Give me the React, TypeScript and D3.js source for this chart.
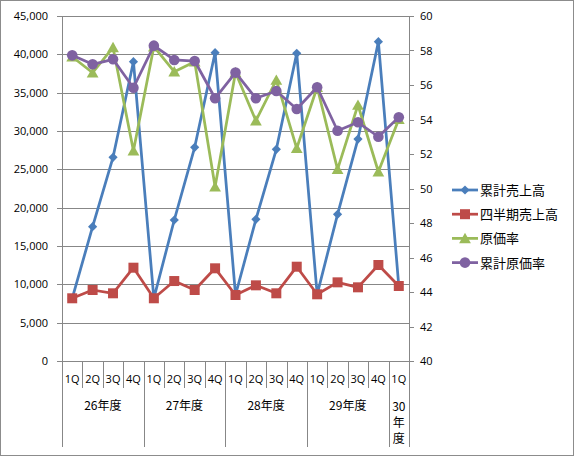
import React from 'react';
import * as d3 from 'd3';

const quarters = ['1Q','2Q','3Q','4Q','1Q','2Q','3Q','4Q','1Q','2Q','3Q','4Q','1Q','2Q','3Q','4Q','1Q'];
const years = ['26年度','27年度','28年度','29年度','30年度'];
const yearSpans = [4, 4, 4, 4, 1];

const cumulativeSales = [8180, 17520, 26570, 39040, 8180, 18390, 27870, 40210, 8610, 18480, 27610, 40130, 8700, 19130, 28950, 41650, 9780];
const quarterlySales = [8180, 9260, 8830, 12170, 8180, 10430, 9260, 12090, 8610, 9870, 8830, 12300, 8700, 10260, 9610, 12520, 9780];
const costRatio = [57.64, 56.71, 58.18, 52.19, 58.22, 56.77, 57.35, 50.1, 56.72, 53.93, 56.29, 52.33, 55.87, 51.11, 54.84, 50.97, 54.01];
const cumCostRatio = [57.72, 57.2, 57.49, 55.84, 58.28, 57.45, 57.39, 55.23, 56.72, 55.23, 55.65, 54.61, 55.87, 53.35, 53.84, 53.0, 54.13];

const leftTicks = [0, 5000, 10000, 15000, 20000, 25000, 30000, 35000, 40000, 45000];
const rightTicks = [40, 42, 44, 46, 48, 50, 52, 54, 56, 58, 60];

const seriesNames = ['累計売上高', '四半期売上高', '原価率', '累計原価率'];
const seriesColors = ['#4A7EBB', '#BE4B48', '#9BBB59', '#7F62A1'];
const seriesMarkers = ['diamond', 'square', 'triangle', 'circle'];

const W = 576, H = 458;
const plot = { left: 62, right: 409, top: 16, bottom: 361 };

function markerPath(type: string, r: number): string {
  const p = d3.path();
  if (type === 'diamond') {
    p.moveTo(0, -r); p.lineTo(r, 0); p.lineTo(0, r); p.lineTo(-r, 0); p.closePath();
  } else if (type === 'square') {
    p.rect(-r, -r, 2 * r, 2 * r);
  } else if (type === 'triangle') {
    p.moveTo(0, -r); p.lineTo(r * 1.05, r * 0.85); p.lineTo(-r * 1.05, r * 0.85); p.closePath();
  } else {
    p.arc(0, 0, r, 0, Math.PI * 2);
  }
  return p.toString();
}
const markerSize: Record<string, number> = { diamond: 4.6, square: 5, triangle: 5.6, circle: 5.3 };

export default function App() {
  const idx = quarters.map((_, i) => i);
  const x = d3.scaleBand<number>().domain(idx).range([plot.left, plot.right]).paddingInner(0).paddingOuter(0);
  const yL = d3.scaleLinear().domain([0, 45000]).range([plot.bottom, plot.top]);
  const yR = d3.scaleLinear().domain([40, 60]).range([plot.bottom, plot.top]);
  const cx = (i: number) => (x(i) as number) + x.bandwidth() / 2;
  const fmt = d3.format(',');

  const data = [
    { vals: cumulativeSales, y: yL },
    { vals: quarterlySales, y: yL },
    { vals: costRatio, y: yR },
    { vals: cumCostRatio, y: yR },
  ];

  const numFont = '"Open Sans", "Liberation Sans", sans-serif';
  const cjkFont = '"Noto Sans CJK JP", sans-serif';
  const gridColor = '#878787';

  // year boundaries
  const boundaries: number[] = [0];
  yearSpans.forEach((s) => boundaries.push(boundaries[boundaries.length - 1] + s));
  const bx = (k: number) => (k < quarters.length ? (x(k) as number) : plot.right);

  return (
    <div style={{ position: 'fixed', left: 0, top: 0, width: W, height: H, background: '#fff' }}>
      <svg width={W} height={H} style={{ display: 'block' }}>
        <rect x={0.5} y={0.5} width={W - 3} height={H - 3} fill="#fff" stroke="#8c8c8c" strokeWidth={1} />
        {/* gridlines */}
        {leftTicks.map((t) => (
          <line key={'g' + t} x1={plot.left - 5} x2={plot.right} y1={Math.round(yL(t)) + 0.5} y2={Math.round(yL(t)) + 0.5} stroke={gridColor} strokeWidth={1} />
        ))}
        {/* left axis */}
        <line x1={plot.left + 0.5} x2={plot.left + 0.5} y1={plot.top} y2={447} stroke={gridColor} />
        {leftTicks.map((t) => (
          <text key={'l' + t} x={48} y={yL(t) + 4} textAnchor="end" fontSize={11} fontFamily={numFont} fill="#000">{fmt(t)}</text>
        ))}
        {/* right axis */}
        <line x1={plot.right + 0.5} x2={plot.right + 0.5} y1={plot.top} y2={plot.bottom} stroke={gridColor} />
        {rightTicks.map((t) => (
          <g key={'r' + t}>
            <line x1={plot.right} x2={plot.right + 5} y1={Math.round(yR(t)) + 0.5} y2={Math.round(yR(t)) + 0.5} stroke={gridColor} />
            <text x={420} y={yR(t) + 4} textAnchor="start" fontSize={11} fontFamily={numFont} fill="#000">{t}</text>
          </g>
        ))}
        {/* category axis */}
        {idx.slice(1).map((i) => (
          <line key={'q' + i} x1={Math.round(x(i) as number) + 0.5} x2={Math.round(x(i) as number) + 0.5} y1={plot.bottom} y2={388} stroke={gridColor} />
        ))}
        {boundaries.map((k) => (
          <line key={'b' + k} x1={Math.round(bx(k)) + 0.5} x2={Math.round(bx(k)) + 0.5} y1={plot.bottom} y2={447} stroke={gridColor} />
        ))}
        {quarters.map((q, i) => (
          <text key={'ql' + i} x={cx(i)} y={383} textAnchor="middle" fontSize={11} fontFamily={numFont} fill="#000">{q}</text>
        ))}
        {years.map((yname, k) => {
          const mid = (bx(boundaries[k]) + bx(boundaries[k + 1])) / 2;
          if (yearSpans[k] === 1) {
            const parts = [yname.slice(0, 2), yname.slice(2, 3), yname.slice(3)];
            return (
              <text key={'y' + k} textAnchor="middle" fontSize={12} fontFamily={cjkFont} fill="#000">
                {parts.map((p, j) => (
                  <tspan key={j} x={mid} y={411 + j * 16}>{p}</tspan>
                ))}
              </text>
            );
          }
          return (
            <text key={'y' + k} x={mid} y={410} textAnchor="middle" fontSize={12} fontFamily={cjkFont} fill="#000">{yname}</text>
          );
        })}
        {/* series */}
        {data.map((s, si) => {
          const line = d3.line<number>().x((_, i) => cx(i)).y((v) => s.y(v));
          return (
            <g key={'s' + si}>
              <path d={line(s.vals) || ''} fill="none" stroke={seriesColors[si]} strokeWidth={2.75} strokeLinejoin="round" />
              {s.vals.map((v, i) => (
                <path key={i} transform={`translate(${cx(i)},${s.y(v)})`} d={markerPath(seriesMarkers[si], markerSize[seriesMarkers[si]])} fill={seriesColors[si]} />
              ))}
            </g>
          );
        })}
        {/* legend */}
        {seriesNames.map((n, i) => {
          const ly = 190 + i * 24.2;
          return (
            <g key={'lg' + i}>
              <line x1={452} x2={478} y1={ly} y2={ly} stroke={seriesColors[i]} strokeWidth={2.75} />
              <path transform={`translate(465,${ly})`} d={markerPath(seriesMarkers[i], markerSize[seriesMarkers[i]])} fill={seriesColors[i]} />
              <text x={480} y={ly + 5} fontSize={13} fontFamily={cjkFont} fill="#000">{n}</text>
            </g>
          );
        })}
      </svg>
    </div>
  );
}
